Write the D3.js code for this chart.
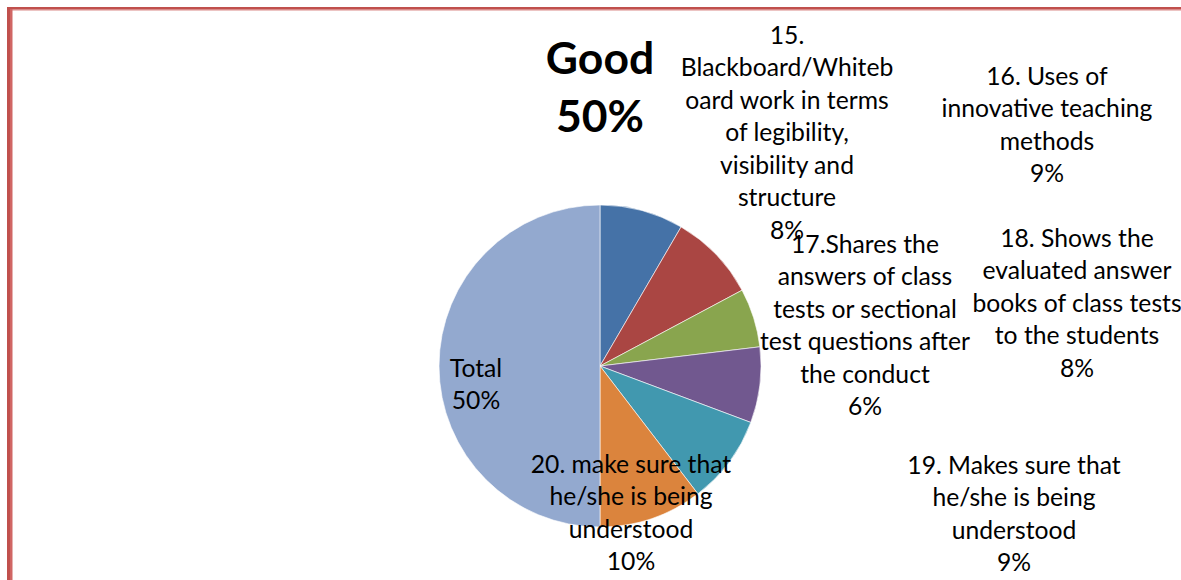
<!DOCTYPE html>
<html>
<head>
<meta charset="utf-8">
<script src="https://cdn.jsdelivr.net/npm/d3@7"></script>
<style>
  html, body { margin: 0; padding: 0; background: #ffffff; }
  svg { display: block; }
  text { font-family: Lato, "Open Sans", sans-serif; fill: #000; }
</style>
</head>
<body>
<svg id="chart" width="1181" height="580"></svg>
<script>
// ---------- data ----------
const categories = [
  "15. Blackboard/Whiteboard work in terms of legibility, visibility and structure",
  "16. Uses of innovative teaching methods",
  "17.Shares the answers of class tests or sectional test questions after the conduct",
  "18. Shows the evaluated answer books of class tests to the students",
  "19. Makes sure that he/she is being understood",
  "20. make sure that he/she is being understood",
  "Total"
];
const values = [8.4, 8.8, 5.9, 7.6, 8.9, 10.4, 50];
const labelLines = [
  ["15.", "Blackboard/Whiteb", "oard work in terms", "of legibility,", "visibility and", "structure"],
  ["16. Uses of", "innovative teaching", "methods"],
  ["17.Shares the", "answers of class", "tests or sectional", "test questions after", "the conduct"],
  ["18. Shows the", "evaluated answer", "books of class tests", "to the students"],
  ["19. Makes sure that", "he/she is being", "understood"],
  ["20. make sure that", "he/she is being", "understood"],
  ["Total"]
];
const titleLines = ["Good", "50%"];

// ---------- layout / style ----------
const colors = ["#4572A7", "#AA4643", "#89A54E", "#71588F", "#4198AF", "#DB843D", "#93A9CF"];
const W = 1181, H = 580;
const cx = 600, cy = 366, R = 161;
// label anchor: center x and center y of first line, offsets from pie center
const labelAnchor = [
  [187, -331], [447, -290], [265, -122], [477, -128], [414, 99], [31, 98], [-124, 2]
];
const lineH = 32.5;

const svg = d3.select("#chart");

// border
svg.append("rect").attr("x", 7).attr("y", 7).attr("width", W).attr("height", 2).attr("fill", "#C0504D");
svg.append("rect").attr("x", 10).attr("y", 9).attr("width", W).attr("height", 1.5).attr("fill", "#D98A88");
svg.append("rect").attr("x", 7).attr("y", 7).attr("width", 3).attr("height", H).attr("fill", "#C0504D");
svg.append("rect").attr("x", 10).attr("y", 9).attr("width", 2.5).attr("height", H).attr("fill", "#D06664");

// font size fit: reference line "test questions after" is ~210px wide
const probe = svg.append("text").attr("font-size", 100).text("test questions after");
const pw = probe.node().getComputedTextLength();
probe.remove();
const fs = Math.min(26, 100 * 210 / pw);

const pie = d3.pie().sort(null).value(d => d).startAngle(0).endAngle(2 * Math.PI);
const arcs = pie(values);
const arc = d3.arc().innerRadius(0).outerRadius(R);

const g = svg.append("g").attr("transform", `translate(${cx},${cy})`);
g.selectAll("path.slice").data(arcs).enter().append("path")
  .attr("class", "slice")
  .attr("d", arc)
  .attr("fill", (d, i) => colors[i])
  .attr("stroke", "#ffffff")
  .attr("stroke-width", 0.6);

// data labels
const lab = g.selectAll("text.lbl").data(arcs).enter().append("text")
  .attr("class", "lbl")
  .attr("text-anchor", "middle")
  .attr("font-size", fs)
  .attr("x", (d, i) => labelAnchor[i][0])
  .attr("y", (d, i) => labelAnchor[i][1]);
lab.each(function(d, i) {
  const t = d3.select(this);
  const lines = labelLines[i].concat([Math.round(values[i]) + "%"]);
  lines.forEach((ln, k) => {
    t.append("tspan")
      .attr("x", labelAnchor[i][0])
      .attr("y", labelAnchor[i][1] + k * lineH)
      .attr("dy", "0.36em")
      .text(ln);
  });
});

// title
const title = svg.append("text")
  .attr("text-anchor", "middle")
  .attr("font-weight", "bold")
  .attr("font-size", fs * 1.8);
titleLines.forEach((ln, k) => {
  title.append("tspan").attr("x", cx).attr("y", 58 + k * 58).attr("dy", "0.36em").text(ln);
});
</script>
</body>
</html>
